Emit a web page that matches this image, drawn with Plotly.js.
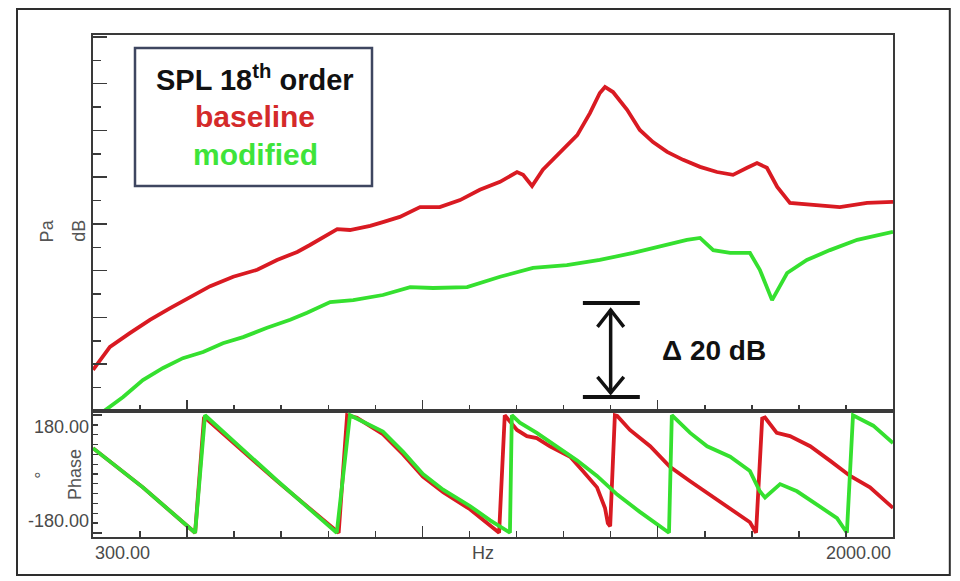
<!DOCTYPE html>
<html>
<head>
<meta charset="utf-8">
<script src="https://cdn.plot.ly/plotly-3.0.1.min.js"></script>
<style>
  html, body { margin: 0; padding: 0; background: #ffffff; }
  #chart { width: 960px; height: 581px; }
</style>
</head>
<body>
<div id="chart"></div>
<script>
// ---------- data ----------
// SPL 18th order, upper panel (dB, relative)
const freqBaseline = [300,336,379,421,464,506,549,598,649,691,734,761,789,819,846,889,916,952,995,1037,1080,1122,1165,1201,1214,1233,1256,1292,1329,1356,1377,1388,1405,1435,1462,1490,1520,1554,1590,1626,1660,1690,1711,1732,1754,1781,1830,1887,1945,2000];
const splBaseline  = [8.8,13.7,16.7,19.5,22.0,24.4,26.7,28.7,30.2,32.3,34.0,35.5,37.2,38.9,38.7,39.6,40.4,41.5,43.6,43.6,45.1,47.3,49.0,51.1,50.5,48.1,51.6,55.2,59.0,63.7,68.0,69.3,68.2,64.4,60.1,57.5,55.4,53.7,52.2,51.1,50.5,52.0,53.0,52.0,47.9,44.5,44.1,43.6,44.5,44.7];

const freqModified = [300,321,364,406,449,491,534,576,619,670,719,755,804,853,916,974,1023,1095,1165,1235,1307,1377,1448,1520,1562,1590,1618,1654,1696,1717,1743,1775,1817,1866,1924,2000];
const splModified  = [-3.0,-0.2,3.0,6.6,9.2,11.3,12.6,14.5,15.8,17.8,19.5,21.0,23.3,23.7,24.8,26.5,26.3,26.5,28.7,30.6,31.2,32.3,33.8,35.5,36.6,37.0,34.4,33.8,33.8,30.2,23.7,29.5,32.3,34.4,36.6,38.3];

// Phase, lower panel (degrees)
const freqPhaseBaseline  = [300,406,517,536,691,812,822,840,861,916,959,1001,1044,1101,1144,1163,1175,1201,1222,1243,1271,1314,1341,1371,1388,1394,1399,1409,1414,1441,1484,1526,1569,1611,1654,1696,1709,1722,1728,1753,1781,1824,1866,1909,1951,1994,2000];
const phaseBaseline      = [79,-41,-180,175,-22,-165,-180,180,172,122,60,-8,-56,-108,-158,-180,180,135,116,110,85,53,9,-41,-104,-151,-160,180,178,135,85,22,-22,-63,-104,-148,-180,170,173,126,116,85,41,-6,-41,-94,-104];

const freqPhaseModified  = [300,406,517,538,691,818,846,916,959,1001,1044,1101,1144,1186,1190,1207,1243,1286,1329,1371,1414,1462,1511,1524,1530,1569,1605,1654,1696,1717,1728,1760,1796,1839,1881,1902,1915,1958,2000];
const phaseModified      = [79,-41,-180,180,-20,-180,180,130,68,0,-48,-98,-142,-180,180,157,126,85,41,-6,-63,-116,-167,-180,180,126,85,53,9,-53,-72,-31,-53,-94,-135,-180,180,148,95];

// Text
const legendTitle = 'SPL 18<sup>th</sup> order';
const seriesNames = ['baseline', 'modified'];
const xEndLabels = ['300.00', '2000.00'];
const xUnit = 'Hz';
const phaseTickVals = [-180, 180];
const phaseTickText = ['-180.00', '180.00'];
const deltaLabel = '\u0394 20 dB';
const deltaSpan = [3.0, 23.1];   // dB ends of the 20 dB marker
const deltaFreq = [1341, 1400, 1462];

// ---------- styling ----------
const RED = '#d91a22';
const GREEN = '#35e02f';
const AX = '#3a3a3a';
const FONT = 'Liberation Sans, Arial, sans-serif';

const traces = [
  {x: freqBaseline, y: splBaseline, xaxis: 'x', yaxis: 'y', mode: 'lines',
   line: {color: RED, width: 3.8}, name: seriesNames[0]},
  {x: freqModified, y: splModified, xaxis: 'x', yaxis: 'y', mode: 'lines',
   line: {color: GREEN, width: 3.8}, name: seriesNames[1]},
  {x: freqPhaseBaseline, y: phaseBaseline, xaxis: 'x2', yaxis: 'y2', mode: 'lines',
   line: {color: RED, width: 3.8}, name: seriesNames[0]},
  {x: freqPhaseModified, y: phaseModified, xaxis: 'x2', yaxis: 'y2', mode: 'lines',
   line: {color: GREEN, width: 3.8}, name: seriesNames[1]}
];

const xCommon = {
  range: [300, 2000], showgrid: false, zeroline: false,
  showline: true, linecolor: AX, linewidth: 2, mirror: true,
  ticks: 'inside', tickmode: 'array', tickvals: [500, 1000, 1500],
  ticklen: 11, tickwidth: 1.5, tickcolor: AX, showticklabels: false,
  minor: {tickmode: 'linear', tick0: 0, dtick: 100, ticks: 'inside', ticklen: 6, tickwidth: 1.5, tickcolor: AX}
};

const phaseLabelFont = {family: FONT, size: 18, color: '#4a4a4a'};

const layout = {
  width: 960, height: 581,
  margin: {l: 93, r: 67, t: 35, b: 44},
  paper_bgcolor: '#ffffff', plot_bgcolor: '#ffffff',
  showlegend: false,
  font: {family: FONT, color: '#444'},
  xaxis: Object.assign({}, xCommon, {anchor: 'y', domain: [0, 1]}),
  xaxis2: Object.assign({}, xCommon, {anchor: 'y2', domain: [0, 1], matches: 'x'}),
  yaxis: {
    domain: [0.251, 1], range: [0, 80.4], anchor: 'x',
    showgrid: false, zeroline: false, showline: true, linecolor: AX, linewidth: 2, mirror: true,
    ticks: 'inside', tickmode: 'linear', tick0: 0, dtick: 10, ticklen: 14, tickwidth: 1.5, tickcolor: AX,
    showticklabels: false,
    minor: {tickmode: 'linear', tick0: 5, dtick: 10, ticks: 'inside', ticklen: 8, tickwidth: 1.5, tickcolor: AX}
  },
  yaxis2: {
    domain: [0, 0.251], range: [-193, 193], anchor: 'x2',
    showgrid: false, zeroline: false, showline: true, linecolor: AX, linewidth: 2, mirror: true,
    ticks: 'inside', tickmode: 'array', tickvals: phaseTickVals,
    ticklen: 9, tickwidth: 1.5, tickcolor: AX, showticklabels: false,
    minor: {tickmode: 'linear', tick0: 0, dtick: 30, ticks: 'inside', ticklen: 5, tickwidth: 1.2, tickcolor: AX}
  },
  shapes: [
    // outer frame
    {type: 'rect', xref: 'paper', yref: 'paper', x0: -0.095, x1: 1.071, y0: -0.0757, y1: 1.0518,
     line: {color: '#2e2e2e', width: 2}, layer: 'below'},
    // legend box
    {type: 'rect', xref: 'paper', yref: 'paper', x0: 0.0525, x1: 0.34875, y0: 0.6992, y1: 0.9741,
     line: {color: '#3e4660', width: 2.5}, fillcolor: '#ffffff'},
    // 20 dB marker
    {type: 'line', xref: 'x', yref: 'y', x0: deltaFreq[0], x1: deltaFreq[2], y0: deltaSpan[1], y1: deltaSpan[1],
     line: {color: '#111', width: 4}},
    {type: 'line', xref: 'x', yref: 'y', x0: deltaFreq[0], x1: deltaFreq[2], y0: deltaSpan[0], y1: deltaSpan[0],
     line: {color: '#111', width: 4}},
    {type: 'line', xref: 'x', yref: 'y', x0: deltaFreq[1], x1: deltaFreq[1], y0: deltaSpan[0] + 0.8, y1: deltaSpan[1] - 1.4,
     line: {color: '#111', width: 3.5}},
    {type: 'path', xref: 'x', yref: 'y',
     path: 'M 1372,18.0 L 1400,21.6 L 1428,18.0', line: {color: '#111', width: 3.5}},
    {type: 'path', xref: 'x', yref: 'y',
     path: 'M 1372,7.3 L 1400,3.9 L 1428,7.3', line: {color: '#111', width: 3.5}}
  ],
  annotations: [
    // legend content
    {xref: 'paper', yref: 'paper', x: 0.2025, y: 0.9143, text: '<b>' + legendTitle + '</b>', showarrow: false,
     font: {family: FONT, size: 29, color: '#111'}, xanchor: 'center', yanchor: 'middle'},
    {xref: 'paper', yref: 'paper', x: 0.2025, y: 0.8367, text: '<b>' + seriesNames[0] + '</b>', showarrow: false,
     font: {family: FONT, size: 30, color: '#d42a2a'}, xanchor: 'center', yanchor: 'middle'},
    {xref: 'paper', yref: 'paper', x: 0.2025, y: 0.761, text: '<b>' + seriesNames[1] + '</b>', showarrow: false,
     font: {family: FONT, size: 30, color: '#3ee43a'}, xanchor: 'center', yanchor: 'middle'},
    // delta label
    {xref: 'x', yref: 'y', x: 1505, y: 13.0, text: '<b>' + deltaLabel + '</b>', showarrow: false,
     font: {family: FONT, size: 28, color: '#111'}, xanchor: 'left', yanchor: 'middle'},
    // y labels upper
    {xref: 'paper', yref: 'paper', x: -0.058, y: 0.61, text: 'Pa', textangle: -90, showarrow: false,
     font: {family: FONT, size: 18, color: '#555'}, xanchor: 'center', yanchor: 'middle'},
    {xref: 'paper', yref: 'paper', x: -0.0175, y: 0.61, text: 'dB', textangle: -90, showarrow: false,
     font: {family: FONT, size: 18, color: '#555'}, xanchor: 'center', yanchor: 'middle'},
    // y labels lower
    {xref: 'paper', yref: 'paper', x: -0.064, y: 0.1235, text: '\u00b0', textangle: -90, showarrow: false,
     font: {family: FONT, size: 18, color: '#555'}, xanchor: 'center', yanchor: 'middle'},
    {xref: 'paper', yref: 'paper', x: -0.0225, y: 0.1235, text: 'Phase', textangle: -90, showarrow: false,
     font: {family: FONT, size: 18, color: '#555'}, xanchor: 'center', yanchor: 'middle'},
    // phase tick labels (drawn inward from the ±180 ticks, as in the reference)
    {xref: 'paper', yref: 'y2', x: -0.003, y: phaseTickVals[1], text: phaseTickText[1], showarrow: false,
     font: phaseLabelFont, xanchor: 'right', yanchor: 'top'},
    {xref: 'paper', yref: 'y2', x: -0.003, y: phaseTickVals[0], text: phaseTickText[0], showarrow: false,
     font: phaseLabelFont, xanchor: 'right', yanchor: 'bottom'},
    // x labels
    {xref: 'x2', yref: 'paper', x: 300, y: -0.032, text: xEndLabels[0], showarrow: false,
     font: phaseLabelFont, xanchor: 'left', yanchor: 'middle'},
    {xref: 'x2', yref: 'paper', x: 2000, y: -0.032, text: xEndLabels[1], showarrow: false,
     font: phaseLabelFont, xanchor: 'right', yanchor: 'middle'},
    {xref: 'paper', yref: 'paper', x: 0.4875, y: -0.032, text: xUnit, showarrow: false,
     font: phaseLabelFont, xanchor: 'center', yanchor: 'middle'}
  ]
};

Plotly.newPlot('chart', traces, layout, {displayModeBar: false, staticPlot: true});
</script>
</body>
</html>
